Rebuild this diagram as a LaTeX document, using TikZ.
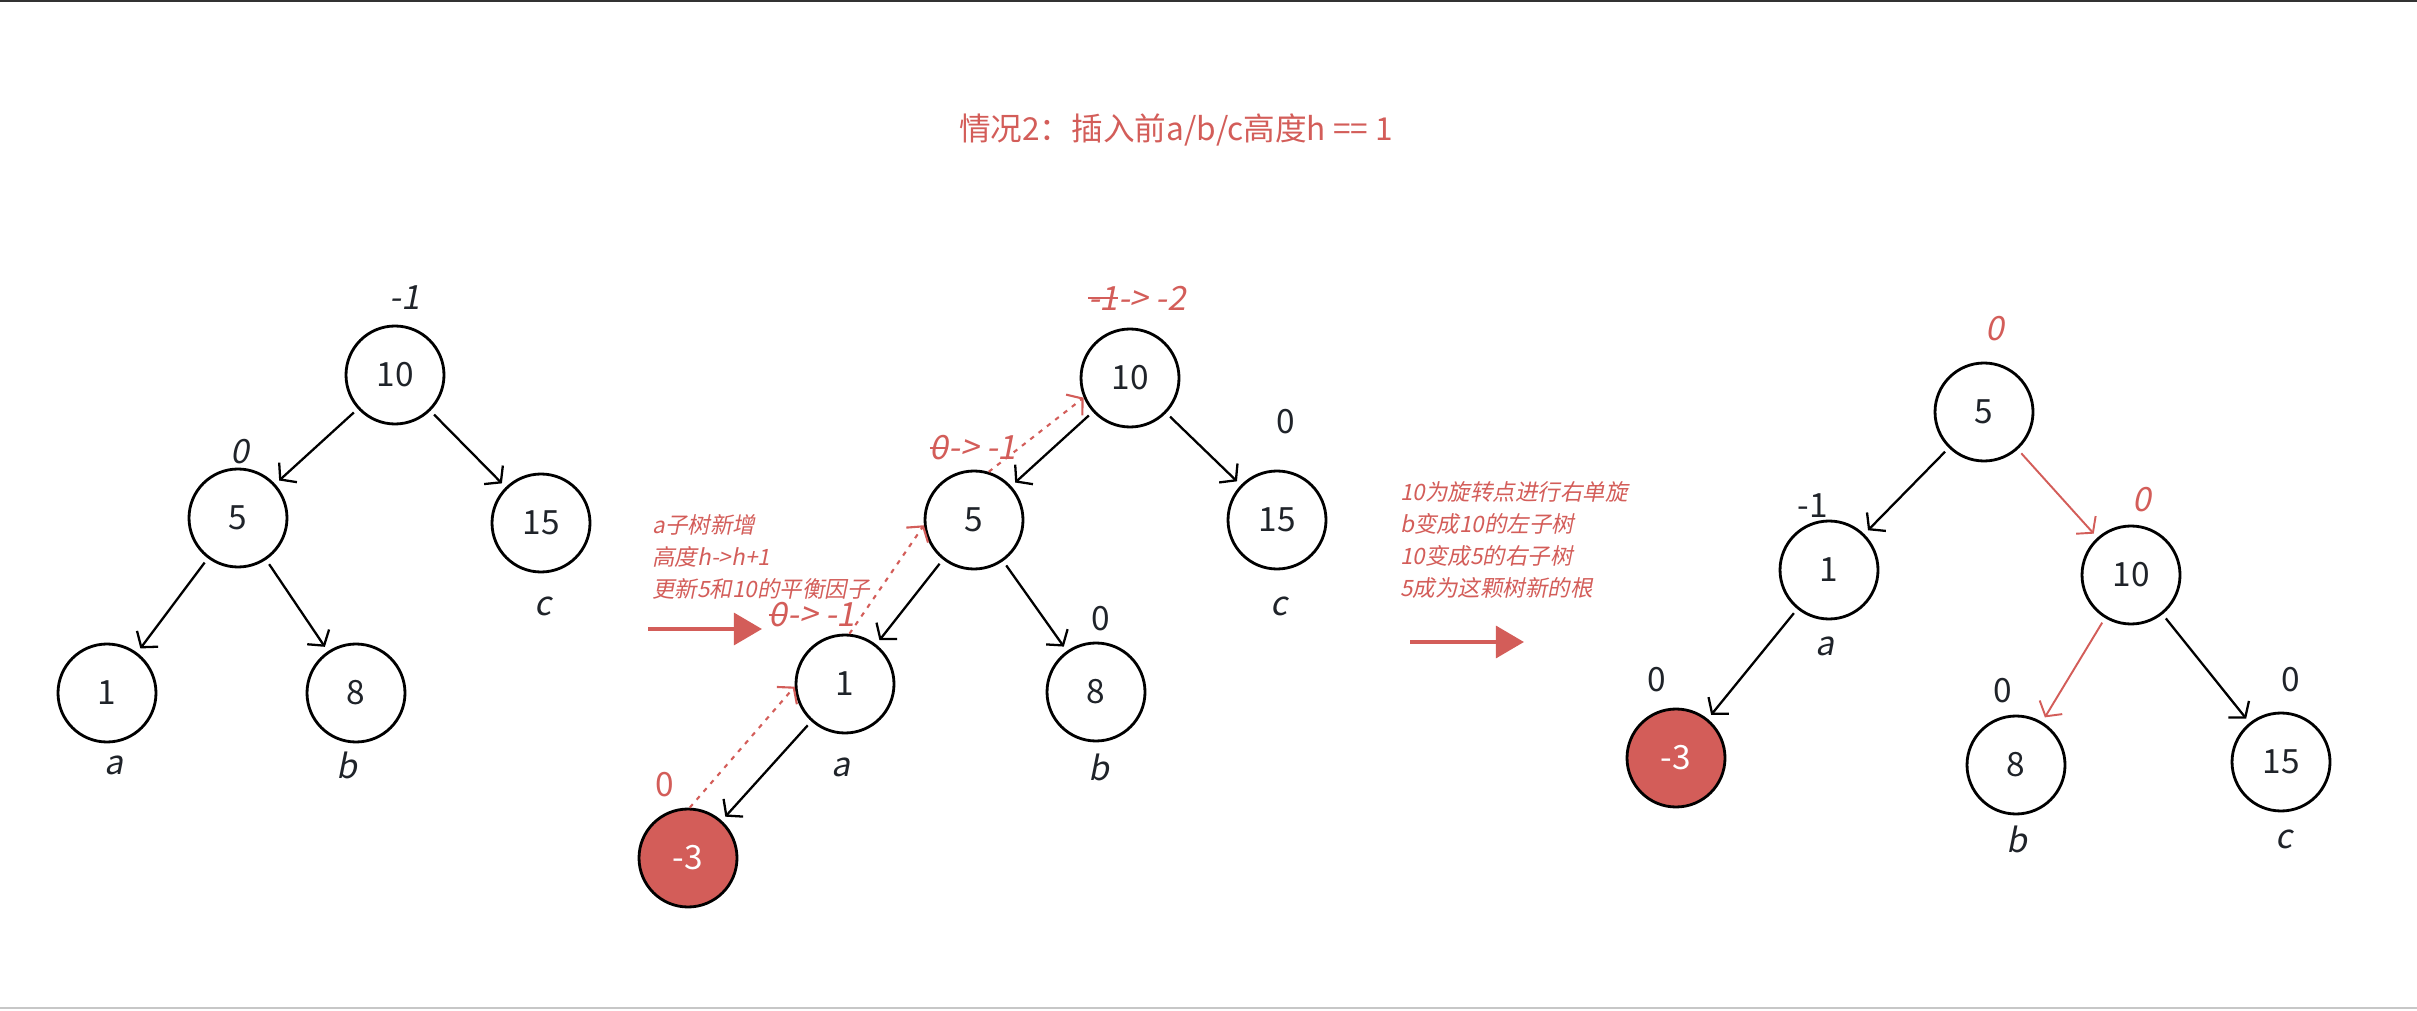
\documentclass[tikz,border=0pt]{standalone}
\usepackage{fontspec}
\setmainfont{Noto Sans CJK SC}
\newfontfamily\slantfont{Noto Sans CJK SC}[FakeSlant=0.2]
\usepackage{tikz}
\usetikzlibrary{arrows.meta, positioning}

\definecolor{avlred}{HTML}{D35D59}
\definecolor{ink}{HTML}{1F2329}

% valor tachado
\newcommand{\oldbf}[1]{\setbox0\hbox{#1}\rlap{\raisebox{0.33em}{\rule{\wd0}{0.5pt}}}\box0}

\tikzset{
  avl/.style={circle, draw=black, line width=0.8pt, minimum size=0.98cm, inner sep=0pt,
    font=\fontsize{9.5}{11}\selectfont, text=ink},
  newnode/.style={avl, fill=avlred, text=white},
  link/.style={->, line width=0.65pt, shorten >=1.5pt, shorten <=1.5pt},
  redlink/.style={link, draw=avlred, line width=0.55pt},
  update/.style={->, draw=avlred, line width=0.6pt, dash pattern=on 1.3pt off 1.7pt},
  bf/.style={font=\fontsize{9.5}{11}\selectfont, text=ink},
  bfit/.style={font=\fontsize{9.5}{11}\selectfont\slantfont, text=ink},
  bfred/.style={font=\fontsize{9.5}{11}\selectfont\slantfont, text=avlred},
  note/.style={font=\fontsize{6.4}{9.1}\selectfont\slantfont, text=avlred, align=left, anchor=west},
  bigarrow/.style={-{Triangle[length=8pt, width=9pt]}, draw=avlred, fill=avlred, line width=1.3pt}
}

\begin{document}
\begin{tikzpicture}[>={Straight Barb[length=3pt, width=7.5pt]}]
    \useasboundingbox (0,0) rectangle (24.17,10.10);
    \draw[black!80, line width=0.6pt] (0,10.09) -- (24.17,10.09);
    \draw[black!22, line width=0.5pt] (0,0.02) -- (24.17,0.02);

    % Titulo
    \node[font=\fontsize{9}{11}\selectfont, text=avlred] (title) at (11.76,8.80) {情况2：插入前a/b/c高度h == 1};

    % Arbol inicial
    \node[avl] (l10) at (3.95,6.35) {10};
    \node[avl] (l5) at (2.38,4.92) {5};
    \node[avl] (l15) at (5.41,4.87) {15};
    \node[avl] (l1) at (1.07,3.17) {1};
    \node[avl] (l8) at (3.56,3.17) {8};
    \draw[link] (l10) -- (l5);
    \draw[link] (l10) -- (l15);
    \draw[link] (l5) -- (l1);
    \draw[link] (l5) -- (l8);
    \node[bfit] (lbf10) at (4.05,7.12) {-1};
    \node[bfit] (lbf5) at (2.40,5.58) {0};
    \node[bfit] (la) at (1.14,2.45) {a};
    \node[bfit] (lb) at (3.47,2.45) {b};
    \node[bfit] (lc) at (5.43,4.04) {c};

    % Insercion de -3
    \node[note] (note1) at (6.40,4.53) {a子树新增\\高度h->h+1\\更新5和10的平衡因子};
    \coordinate (go1s) at (6.48,3.81);
    \coordinate (go1e) at (7.62,3.81);
    \draw[bigarrow] (go1s) -- (go1e);

    \node[avl] (m10) at (11.30,6.32) {10};
    \node[avl] (m5) at (9.74,4.90) {5};
    \node[avl] (m15) at (12.77,4.90) {15};
    \node[avl] (m1) at (8.45,3.26) {1};
    \node[avl] (m8) at (10.96,3.18) {8};
    \node[newnode] (m3) at (6.88,1.52) {-3};
    \draw[link] (m10) -- (m5);
    \draw[link] (m10) -- (m15);
    \draw[link] (m5) -- (m1);
    \draw[link] (m5) -- (m8);
    \draw[link] (m1) -- (m3);
    \draw[update] (m3.88) -- (m1.183);
    \draw[update] (m1.85) -- (m5.186);
    \draw[update] (m5.73) -- (m10.203);
    \node[bfred] (mbf10) at (11.37,7.12) {\oldbf{-1} -> -2};
    \node[bfred] (mbf5) at (9.73,5.62) {\oldbf{0} -> -1};
    \node[bfred] (mbf1) at (8.12,3.95) {\oldbf{0} -> -1};
    \node[bf] (mbf15) at (12.86,5.88) {0};
    \node[bf] (mbf8) at (11.01,3.91) {0};
    \node[bf, text=avlred] (mbf3) at (6.65,2.25) {0};
    \node[bfit] (ma) at (8.41,2.43) {a};
    \node[bfit] (mb) at (10.99,2.43) {b};
    \node[bfit] (mc) at (12.79,4.04) {c};

    % Rotacion a la derecha
    \node[note] (note2) at (13.88,4.70) {10为旋转点进行右单旋\\b变成10的左子树\\10变成5的右子树\\5成为这颗树新的根};
    \coordinate (go2s) at (14.10,3.68);
    \coordinate (go2e) at (15.24,3.68);
    \draw[bigarrow] (go2s) -- (go2e);

    \node[avl] (r5) at (19.84,5.98) {5};
    \node[avl] (r1) at (18.29,4.40) {1};
    \node[avl] (r10) at (21.31,4.35) {10};
    \node[newnode] (r3) at (16.76,2.52) {-3};
    \node[avl] (r8) at (20.16,2.45) {8};
    \node[avl] (r15) at (22.81,2.48) {15};
    \draw[link] (r5) -- (r1);
    \draw[redlink] (r5) -- (r10);
    \draw[link] (r1) -- (r3);
    \draw[redlink] (r10) -- (r8);
    \draw[link] (r10) -- (r15);
    \node[bfred] (rbf5) at (19.95,6.81) {0};
    \node[bfred] (rbf10) at (21.42,5.10) {0};
    \node[bf] (rbf1) at (18.13,5.04) {-1};
    \node[bf] (rbf3) at (16.57,3.30) {0};
    \node[bf] (rbf8) at (20.03,3.19) {0};
    \node[bf] (rbf15) at (22.91,3.30) {0};
    \node[bfit] (ra) at (18.25,3.64) {a};
    \node[bfit] (rb) at (20.17,1.71) {b};
    \node[bfit] (rc) at (22.84,1.71) {c};
\end{tikzpicture}
\end{document}
